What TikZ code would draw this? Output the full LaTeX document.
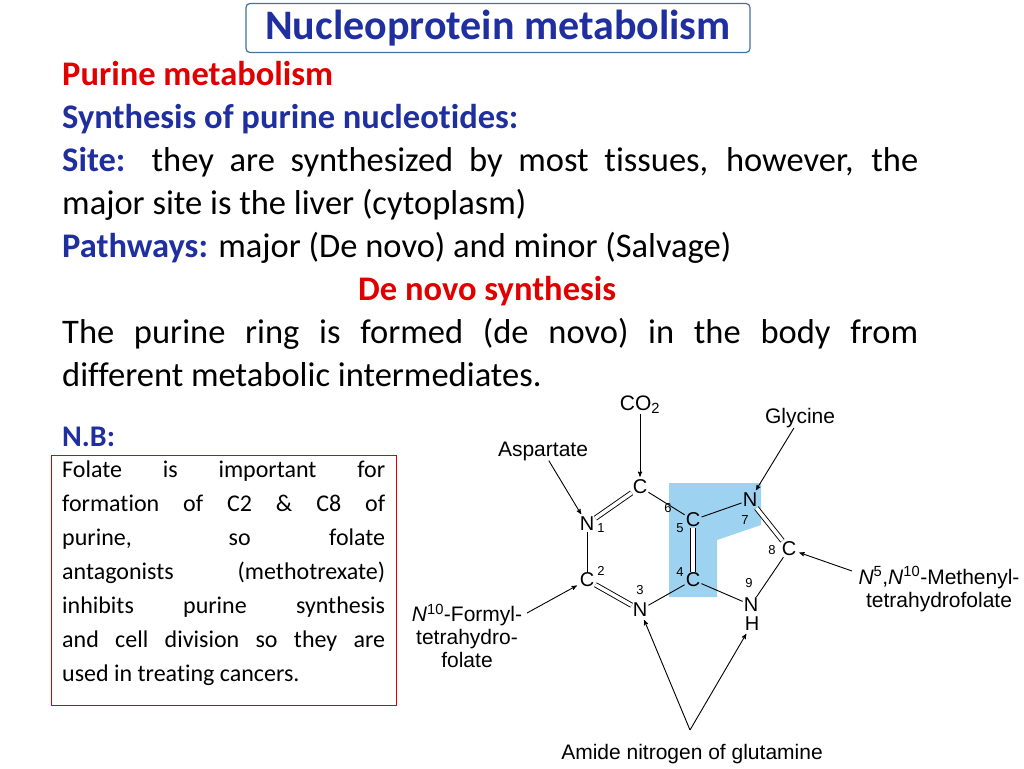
\documentclass[tikz,border=0pt]{standalone}
\usepackage{fontspec}
\setmainfont{Carlito}[RawFeature=-liga]
\newfontfamily\chemfont{Liberation Sans}
\usetikzlibrary{arrows}
\definecolor{slidered}{HTML}{E00000}
\definecolor{slideblue}{HTML}{1F2F9F}
\definecolor{boxblue}{HTML}{41719C}
\definecolor{ringblue}{HTML}{9DD3F0}
\tikzset{
	atom node/.style={font=\chemfont\fontsize{20}{20}\selectfont,inner sep=1pt},
	num node/.style={font=\chemfont\fontsize{13}{13}\selectfont,inner sep=0pt},
	label node/.style={font=\chemfont\fontsize{21}{23}\selectfont,inner sep=0pt,align=center},
	bond/.style={line width=0.9pt},
	feed/.style={->,>=stealth',line width=0.9pt,shorten >=2pt}
}
\hyphenpenalty=10000
\begin{document}
\begin{tikzpicture}[x=1pt,y=-1pt]
	\useasboundingbox (0,0) rectangle (1024,768);
	% title and text
	\node [draw=boxblue,line width=1.2pt,rounded corners=4pt,minimum width=504pt,minimum height=49pt,
	       text=slideblue,font=\bfseries\fontsize{42}{42}\selectfont] (title) at (498,28) {Nucleoprotein metabolism};
	\node [anchor=north west,text width=856pt,align=justify,inner sep=0pt,font=\fontsize{34.5}{43}\selectfont] (body) at (62,61)
	  {{\bfseries\color{slidered}Purine metabolism}\par
	   {\bfseries\color{slideblue}Synthesis of purine nucleotides:}\par
	   {\bfseries\color{slideblue}Site:} they are synthesized by most tissues, however, the\linebreak major site is the liver (cytoplasm)\par
	   {\bfseries\color{slideblue}Pathways:} major (De novo) and minor (Salvage)\par
	   \hspace*{296pt}{\bfseries\color{slidered}De novo synthesis}\par
	   The purine ring is formed (de novo) in the body from\linebreak different metabolic intermediates.\par};
	\node [anchor=west,text=slideblue,font=\bfseries\fontsize{30}{30}\selectfont,inner sep=0pt] (nb) at (62,437) {N.B:};
	\node [draw=slidered,line width=0.8pt,anchor=north west,minimum width=345pt,minimum height=250pt,inner sep=0pt] (nbbox) at (51,455) {};
	\node [anchor=north west,text width=323pt,align=justify,inner sep=0pt,font=\fontsize{24}{34}\selectfont] (nbtext) at (62,461)
	  {Folate is important for\linebreak formation of C2 \& C8 of\linebreak purine, so folate\linebreak antagonists (methotrexate)\linebreak inhibits purine synthesis\linebreak and cell division so they are\linebreak used in treating cancers.\par};
	% purine ring
	\fill [ringblue] (669,483) -- (761,483) -- (761,525) -- (717,540) -- (717,597) -- (669,597) -- cycle;
	\node [atom node] (c6) at (640,487) {C};
	\node [atom node] (n1) at (587,524) {N};
	\node [atom node] (c2) at (587,580) {C};
	\node [atom node] (n3) at (640,610) {N};
	\node [atom node] (c4) at (693,580) {C};
	\node [atom node] (c5) at (693,520) {C};
	\node [atom node] (n7) at (750,500) {N};
	\node [atom node] (c8) at (789,549) {C};
	\node [atom node] (n9) at (751,605) {N};
	\node [atom node] (h9) at (752,624) {H};
	\node [num node] at (601,528) {1};
	\node [num node] at (601,571) {2};
	\node [num node] at (640,590) {3};
	\node [num node] at (680,572) {4};
	\node [num node] at (680,528) {5};
	\node [num node] at (668,508) {6};
	\node [num node] at (745,520) {7};
	\node [num node] at (772,550) {8};
	\node [num node] at (749,583) {9};
	\draw [bond,double,double distance=3.5pt] (n1) -- (c6);
	\draw [bond] (c6) -- (c5);
	\draw [bond,double,double distance=3.5pt] (c5) -- (c4);
	\draw [bond] (c4) -- (n3);
	\draw [bond,double,double distance=3.5pt] (n3) -- (c2);
	\draw [bond] (c2) -- (n1);
	\draw [bond] (c5) -- (n7);
	\draw [bond,double,double distance=3.5pt] (n7) -- (c8);
	\draw [bond] (c8) -- (n9);
	\draw [bond] (n9) -- (c4);
	% sources
	\node [label node] (co2) at (640,405) {CO\textsubscript{2}};
	\node [label node] (gly) at (800,418) {Glycine};
	\node [label node] (asp) at (543,451) {Aspartate};
	\node [label node] (formyl) at (467,636) {\textit{N}\textsuperscript{10}-Formyl-\\tetrahydro-\\folate};
	\node [label node] (methenyl) at (939,589) {\textit{N}\textsuperscript{5},\textit{N}\textsuperscript{10}-Methenyl-\\tetrahydrofolate};
	\node [label node] (amide) at (692,754) {Amide nitrogen of glutamine};
	\coordinate (split) at (690,730);
	\draw [feed] (co2) -- (c6);
	\draw [feed] (gly) -- (n7);
	\draw [feed] (asp) -- (n1);
	\draw [feed] (527,613) -- (c2);
	\draw [feed] (852,571) -- (c8);
	\draw [feed] (split) -- (n3);
	\draw [feed] (split) -- (h9);
\end{tikzpicture}
\end{document}
